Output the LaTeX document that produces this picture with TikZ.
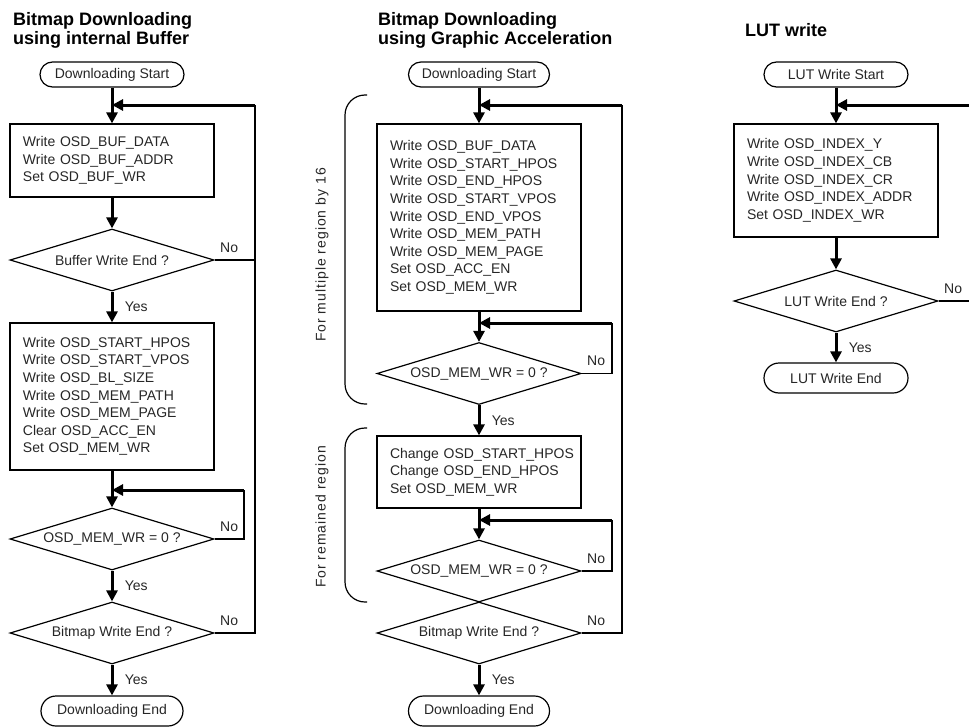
\documentclass[tikz,border=0pt]{standalone}
\usepackage{fontspec}
\setmainfont{Liberation Sans}
\usetikzlibrary{shapes.geometric,arrows.meta}
\hfuzz=20pt

\begin{document}
\begin{tikzpicture}[x=1pt,y=-1pt,
    font=\fontsize{14}{17.6}\selectfont,
    every node/.style={text=black!85},
    title/.style={anchor=north west, align=left, inner sep=0pt, text=black,
                  font=\bfseries\fontsize{18}{19}\selectfont},
    terminal/.style={draw=black, line width=1.2pt, rounded corners=12.5pt,
                     minimum width=144pt, minimum height=25pt, inner sep=0pt},
    box/.style={draw=black, line width=1.2pt, minimum width=204pt,
                text width=178pt, inner xsep=13pt, inner ysep=0pt, align=left},
    decision/.style={draw=black, diamond, line width=1.2pt, aspect=3.3,
                     inner sep=0pt, minimum width=204pt, minimum height=62pt},
    flow/.style={line width=3pt, -{Triangle[length=11pt,width=11pt]}},
    back/.style={line width=1.2pt},
    yes/.style={right, xshift=8pt},
    no/.style={anchor=south west, inner sep=0pt, xshift=5pt, yshift=7pt},
    bracket/.style={line width=1.2pt, rounded corners=20pt},
    side/.style={rotate=90, font=\fontsize{14}{17}\selectfont\addfontfeature{LetterSpace=7}}
  ]
  \useasboundingbox (0,0) rectangle (969,728);

  % titles
  \node[title] (title1) at (13,12) {Bitmap Downloading\\using internal Buffer};
  \node[title] (title2) at (378,12) {Bitmap Downloading\\using Graphic Acceleration};
  \node[title] (title3) at (745,23) {LUT write};

  % internal buffer
  \node[terminal] (start1) at (112,74.5) {Downloading Start};
  \node[box, minimum height=73pt] (box1) at (112,160.5)
    {Write OSD\_BUF\_DATA\\Write OSD\_BUF\_ADDR\\Set OSD\_BUF\_WR};
  \node[decision] (dec1) at (112,260) {Buffer Write End ?};
  \node[box, minimum height=147pt] (box2) at (112,396.5)
    {Write OSD\_START\_HPOS\\Write OSD\_START\_VPOS\\Write OSD\_BL\_SIZE\\
     Write OSD\_MEM\_PATH\\Write OSD\_MEM\_PAGE\\Clear OSD\_ACC\_EN\\Set OSD\_MEM\_WR};
  \node[decision] (dec2) at (112,539) {OSD\_MEM\_WR = 0 ?};
  \node[decision] (dec3) at (112,633) {Bitmap Write End ?};
  \node[terminal, minimum height=30pt, rounded corners=15pt, minimum width=142pt] (end1) at (112,711) {Downloading End};

  \coordinate (m1) at (112,105);
  \coordinate (r1) at (255,105);
  \coordinate (m2) at (112,490);
  \coordinate (r2) at (244,490);

  \draw[flow] (start1) -- (box1);
  \draw[flow] (box1) -- (dec1);
  \draw[flow] (dec1) -- node[yes] {Yes} (box2);
  \draw[flow] (box2) -- (dec2);
  \draw[flow] (dec2) -- node[yes] {Yes} (dec3);
  \draw[flow] (dec3) -- node[yes] {Yes} (end1);
  \draw[back] (dec1.east) node[no] {No} -- (dec1.east -| r1);
  \draw[back] (dec3.east) node[no] {No} -| (r1);
  \draw[flow] (r1) -- (m1);
  \draw[back] (dec2.east) node[no] {No} -| (r2);
  \draw[flow] (r2) -- (m2);

  % graphic acceleration
  \node[terminal, minimum width=141pt] (start2) at (479,74.5) {Downloading Start};
  \node[box, minimum height=187pt] (box3) at (479,217.5)
    {Write OSD\_BUF\_DATA\\Write OSD\_START\_HPOS\\Write OSD\_END\_HPOS\\
     Write OSD\_START\_VPOS\\Write OSD\_END\_VPOS\\Write OSD\_MEM\_PATH\\
     Write OSD\_MEM\_PAGE\\Set OSD\_ACC\_EN\\Set OSD\_MEM\_WR};
  \node[decision] (dec4) at (479,373.5) {OSD\_MEM\_WR = 0 ?};
  \node[box, minimum height=72pt] (box4) at (479,472)
    {Change~OSD\_START\_HPOS\\Change~OSD\_END\_HPOS\\Set OSD\_MEM\_WR};
  \node[decision] (dec5) at (479,571) {OSD\_MEM\_WR = 0 ?};
  \node[decision] (dec6) at (479,633) {Bitmap Write End ?};
  \node[terminal, minimum height=30pt, rounded corners=15pt, minimum width=141pt] (end2) at (479,711) {Downloading End};

  \coordinate (m3) at (479,105);
  \coordinate (r3) at (622,105);
  \coordinate (m4) at (479,323);
  \coordinate (r4) at (612,323);
  \coordinate (m6) at (479,520);
  \coordinate (r6) at (612,520);

  \draw[flow] (start2) -- (box3);
  \draw[flow] (box3) -- (dec4);
  \draw[flow] (dec4) -- node[yes] {Yes} (box4);
  \draw[flow] (box4) -- (dec5);
  \draw[flow] (dec6) -- node[yes] {Yes} (end2);
  \draw[back] (dec6.east) node[no] {No} -| (r3);
  \draw[flow] (r3) -- (m3);
  \draw[back] (dec4.east) node[no] {No} -| (r4);
  \draw[flow] (r4) -- (m4);
  \draw[back] (dec5.east) node[no] {No} -| (r6);
  \draw[flow] (r6) -- (m6);

  \draw[bracket] (367,95) -- (345,95) -- (345,404) -- (367,404);
  \draw[bracket] (367,428) -- (345,428) -- (345,602) -- (367,602);
  \node[side] (side1) at (322,255) {For multiple region by 16};
  \node[side] (side2) at (322,517) {For remained region};

  % LUT
  \node[terminal] (start3) at (836,74.5) {LUT Write Start};
  \node[box, minimum height=113pt] (box5) at (836,180.5)
    {Write OSD\_INDEX\_Y\\Write OSD\_INDEX\_CB\\Write OSD\_INDEX\_CR\\
     Write OSD\_INDEX\_ADDR\\Set OSD\_INDEX\_WR};
  \node[decision] (dec7) at (836,301) {LUT Write End ?};
  \node[terminal, minimum height=30pt, rounded corners=15pt] (end3) at (836,378) {LUT Write End};

  \coordinate (m5) at (836,105);
  \coordinate (r5) at (976,105);

  \draw[flow] (start3) -- (box5);
  \draw[flow] (box5) -- (dec7);
  \draw[flow] (dec7) -- node[yes] {Yes} (end3);
  \draw[back] (dec7.east) node[no] {No} -| (r5);
  \draw[flow] (r5) -- (m5);
\end{tikzpicture}
\end{document}
